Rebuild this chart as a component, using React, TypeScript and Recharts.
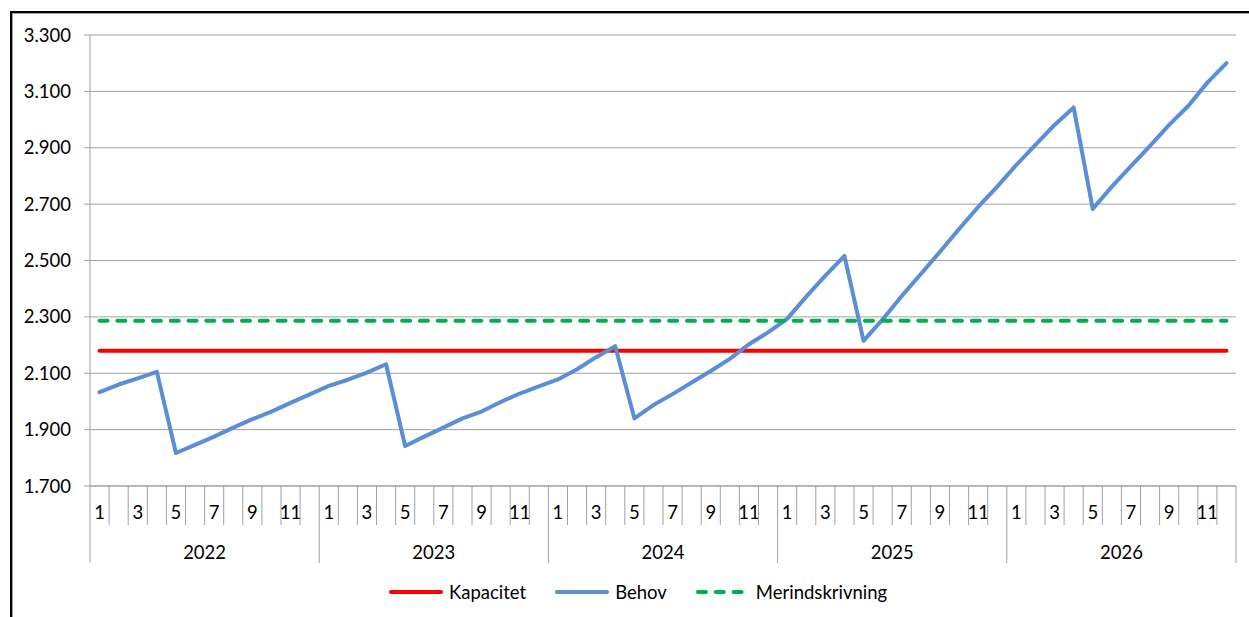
import React from 'react';
import { LineChart, Line, XAxis, YAxis, CartesianGrid, Legend } from 'recharts';

// ---- data ----
const YEARS = ['2022', '2023', '2024', '2025', '2026'];
const MONTHS = ['1', '2', '3', '4', '5', '6', '7', '8', '9', '10', '11', '12'];
const BEHOV = [
  2033, 2060, 2082, 2105, 1817, 1846, 1875, 1907, 1937, 1964, 1995, 2025,
  2055, 2077, 2102, 2132, 1842, 1875, 1907, 1940, 1964, 1998, 2028, 2053,
  2078, 2114, 2157, 2196, 1940, 1987, 2026, 2067, 2108, 2151, 2203, 2245,
  2293, 2372, 2446, 2516, 2215, 2291, 2374, 2452, 2531, 2612, 2690, 2762,
  2839, 2910, 2981, 3043, 2683, 2762, 2835, 2907, 2981, 3048, 3131, 3200,
];
const KAPACITET = 2180;
const MERINDSKRIVNING = 2286;
const Y_TICKS = [1700, 1900, 2100, 2300, 2500, 2700, 2900, 3100, 3300];
const SERIES_NAMES = ['Kapacitet', 'Behov', 'Merindskrivning'];

// ---- layout / style ----
const CHART_W = 1249;
const CHART_H = 617;
const MARGIN = { top: 35, right: 13, left: 30, bottom: 51 };
const Y_AXIS_W = 60;
const PLOT_W = CHART_W - MARGIN.left - Y_AXIS_W - MARGIN.right;
const N = MONTHS.length * YEARS.length;
const MONTH_W = PLOT_W / N;
const FONT = 'Lato, "Open Sans", sans-serif';
const FONT_SIZE = 18.5;
const GRID = '#a0a0a0';
const RED = '#ff0000';
const BLUE = '#5a8ed6';
const GREEN = '#00b050';
const GREEN_DASH = '8 9.8';

const data = BEHOV.map((v, i) => ({
  x: i + 0.5,
  behov: v,
  kapacitet: KAPACITET,
  merind: MERINDSKRIVNING,
}));
const X_BOUNDS = Array.from({ length: N + 1 }, (_, i) => i);

const fmt = (v: number) => {
  const s = String(Math.round(v));
  return s.length > 3 ? s.slice(0, s.length - 3) + '.' + s.slice(s.length - 3) : s;
};

function MonthTick(props: any) {
  const { x, y, payload } = props;
  const i = Number(payload.value);
  const mi = i % MONTHS.length;
  const yearStart = mi === 0;
  return (
    <g>
      <line x1={x} x2={x} y1={y} y2={y + (yearStart ? 77 : 39)} stroke={GRID} strokeWidth={1} />
      {i < N && mi % 2 === 0 && (
        <text
          x={x + MONTH_W / 2}
          y={y + 26}
          textAnchor="middle"
          dominantBaseline="central"
          fontFamily={FONT}
          fontSize={FONT_SIZE}
          fill="#000"
        >
          {MONTHS[mi]}
        </text>
      )}
      {i < N && yearStart && (
        <text
          x={x + (MONTHS.length / 2) * MONTH_W}
          y={y + 65.5}
          textAnchor="middle"
          dominantBaseline="central"
          fontFamily={FONT}
          fontSize={FONT_SIZE}
          fill="#000"
        >
          {YEARS[i / MONTHS.length]}
        </text>
      )}
    </g>
  );
}

const LEGEND_ITEMS = [
  { name: SERIES_NAMES[0], color: RED, dash: undefined as string | undefined },
  { name: SERIES_NAMES[1], color: BLUE, dash: undefined as string | undefined },
  { name: SERIES_NAMES[2], color: GREEN, dash: GREEN_DASH },
];

function LegendContent() {
  return (
    <div style={{ display: 'flex', alignItems: 'center', fontFamily: FONT, fontSize: FONT_SIZE, color: '#000', whiteSpace: 'nowrap' }}>
      {LEGEND_ITEMS.map((it, k) => (
        <div key={it.name} style={{ display: 'flex', alignItems: 'center', marginRight: k < LEGEND_ITEMS.length - 1 ? 29 : 0 }}>
          <svg width={54} height={8} style={{ display: 'block' }}>
            <line
              x1={2}
              x2={52}
              y1={4}
              y2={4}
              stroke={it.color}
              strokeWidth={4}
              strokeLinecap="round"
              strokeDasharray={it.dash}
            />
          </svg>
          <span style={{ marginLeft: 6, lineHeight: '22px' }}>{it.name}</span>
        </div>
      ))}
    </div>
  );
}

export default function App() {
  return (
    <div style={{ position: 'absolute', left: 0, top: 0, width: CHART_W, height: CHART_H, overflow: 'hidden', background: '#fff' }}>
      <div
        style={{
          position: 'absolute',
          left: 10,
          top: 11,
          width: 1400,
          height: 800,
          borderLeft: '2px solid #000',
          borderTop: '2px solid #000',
          boxShadow: 'inset 1px 1px 0 #a0a0a0',
        }}
      />
      <div style={{ position: 'absolute', left: 0, top: 0 }}>
        <LineChart width={CHART_W} height={CHART_H} data={data} margin={MARGIN}>
          <CartesianGrid vertical={false} stroke={GRID} strokeWidth={1} />
          <XAxis
            dataKey="x"
            type="number"
            domain={[0, N]}
            ticks={X_BOUNDS}
            interval={0}
            height={80}
            tickLine={false}
            tickSize={0}
            tickMargin={0}
            axisLine={{ stroke: GRID }}
            tick={<MonthTick />}
          />
          <YAxis
            type="number"
            domain={[1700, 3300]}
            ticks={Y_TICKS}
            interval={0}
            width={Y_AXIS_W}
            tickFormatter={fmt}
            tickSize={6}
            tickMargin={13}
            axisLine={{ stroke: GRID }}
            tickLine={{ stroke: GRID }}
            tick={{ fill: '#000', fontSize: FONT_SIZE, fontFamily: FONT }}
          />
          <Line
            name={SERIES_NAMES[0]}
            dataKey="kapacitet"
            stroke={RED}
            strokeWidth={4}
            strokeLinecap="round"
            dot={false}
            activeDot={false}
            isAnimationActive={false}
          />
          <Line
            name={SERIES_NAMES[1]}
            dataKey="behov"
            stroke={BLUE}
            strokeWidth={4}
            strokeLinecap="round"
            strokeLinejoin="round"
            dot={false}
            activeDot={false}
            isAnimationActive={false}
          />
          <Line
            name={SERIES_NAMES[2]}
            dataKey="merind"
            stroke={GREEN}
            strokeWidth={4}
            strokeLinecap="round"
            strokeDasharray={GREEN_DASH}
            dot={false}
            activeDot={false}
            isAnimationActive={false}
          />
          <Legend
            layout="horizontal"
            verticalAlign="middle"
            align="center"
            content={<LegendContent />}
            wrapperStyle={{ left: 389, top: 581, width: 'auto', height: 'auto' }}
          />
        </LineChart>
      </div>
    </div>
  );
}
